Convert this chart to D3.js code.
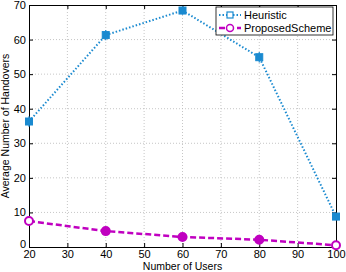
<!DOCTYPE html>
<html>
<head>
<script src="https://d3js.org/d3.v7.min.js"></script>
<style>
body { margin: 0; background: #fff; }
svg { display: block; font-family: "Liberation Sans", Arial, sans-serif; }
</style>
</head>
<body>
<div id="root"></div>
<script>
let users = [20, 40, 60, 80, 100];
let heuristic = [36.3, 61.3, 68.4, 54.9, 8.8];
let heuristic_err = [1.5, 1.5, 1.2, 1.5, 0.7];
let proposed = [7.5, 4.6, 2.9, 2.1, 0.5];
let proposed_err = [0.4, 1.2, 1.2, 1.2, 0.3];
let x_ticks = [20, 30, 40, 50, 60, 70, 80, 90, 100];
let y_ticks = [0, 10, 20, 30, 40, 50, 60, 70];
let series_names = ['Heuristic', 'ProposedScheme'];

let width = 346, height = 272;
let margin = {left: 29, right: 10, top: 5, bottom: 25};
let blue = '#1a8ad0';
let magenta = '#c000c0';

let svg = d3.select('#root').append('svg').attr('width', width).attr('height', height);

let x = d3.scaleLinear().domain([20, 100]).range([margin.left, width - margin.right]);
let y = d3.scaleLinear().domain([0, 70]).range([height - margin.bottom, margin.top]);

// grid
let grid = svg.append('g').attr('stroke', '#b8b8b8').attr('stroke-width', 0.8).attr('stroke-dasharray', '1,2');
grid.selectAll('line.gx').data(x_ticks.slice(1, -1)).join('line')
    .attr('x1', d => x(d)).attr('x2', d => x(d)).attr('y1', y(0)).attr('y2', y(70));
grid.selectAll('line.gy').data(y_ticks.slice(1, -1)).join('line')
    .attr('y1', d => y(d)).attr('y2', d => y(d)).attr('x1', x(20)).attr('x2', x(100));

// axes
let ax = svg.append('g').attr('transform', `translate(0,${y(0)})`)
    .call(d3.axisBottom(x).tickValues(x_ticks).tickSize(-4).tickPadding(3).tickFormat(d3.format('d')));
let ax_top = svg.append('g').attr('transform', `translate(0,${y(70)})`)
    .call(d3.axisTop(x).tickValues(x_ticks).tickSize(-4).tickFormat(''));
let ay = svg.append('g').attr('transform', `translate(${x(20)},0)`)
    .call(d3.axisLeft(y).tickValues(y_ticks).tickSize(-4).tickPadding(3));
let ay_r = svg.append('g').attr('transform', `translate(${x(100)},0)`)
    .call(d3.axisRight(y).tickValues(y_ticks).tickSize(-4).tickFormat(''));
[ax, ax_top, ay, ay_r].forEach(g => {
    g.select('.domain').attr('stroke', '#000').attr('stroke-width', 1);
    g.selectAll('.tick line').attr('stroke', '#000');
    g.selectAll('text').attr('font-size', 11).attr('fill', '#000').style('font-family', '"Liberation Sans", Arial, sans-serif');
});
// nudge the y "0" label up so it clears the x "20" label
ay.selectAll('.tick text').filter(d => d === 0).attr('y', -3);

let line = d3.line().x((d, i) => x(users[i])).y(d => y(d));

// heuristic
svg.append('path').datum(heuristic).attr('d', line)
    .attr('fill', 'none').attr('stroke', blue).attr('stroke-width', 2).attr('stroke-dasharray', '1.5,2');
let hg = svg.append('g');
hg.selectAll('line').data(heuristic).join('line')
    .attr('x1', (d, i) => x(users[i])).attr('x2', (d, i) => x(users[i]))
    .attr('y1', (d, i) => y(d - heuristic_err[i])).attr('y2', (d, i) => y(d + heuristic_err[i]))
    .attr('stroke', blue).attr('stroke-width', 1.2);
hg.selectAll('rect').data(heuristic).join('rect')
    .attr('x', (d, i) => x(users[i]) - 3.5).attr('y', d => y(d) - 3.5)
    .attr('width', 7).attr('height', 7)
    .attr('fill', blue).attr('stroke', blue).attr('stroke-width', 1);

// proposed
svg.append('path').datum(proposed).attr('d', line)
    .attr('fill', 'none').attr('stroke', magenta).attr('stroke-width', 2.5).attr('stroke-dasharray', '6,3');
let pg = svg.append('g');
pg.selectAll('line').data(proposed).join('line')
    .attr('x1', (d, i) => x(users[i])).attr('x2', (d, i) => x(users[i]))
    .attr('y1', (d, i) => y(d - proposed_err[i])).attr('y2', (d, i) => y(d + proposed_err[i]))
    .attr('stroke', magenta).attr('stroke-width', 1);
pg.selectAll('circle').data(proposed).join('circle')
    .attr('cx', (d, i) => x(users[i])).attr('cy', d => y(d)).attr('r', 4)
    .attr('fill', (d, i) => proposed_err[i] > 1 ? magenta : '#fff')
    .attr('stroke', magenta).attr('stroke-width', 2);

// labels
svg.append('text').attr('x', (x(20) + x(100)) / 2).attr('y', 270)
    .attr('text-anchor', 'middle').attr('font-size', 10.5).text('Number of Users');
svg.append('text').attr('transform', `translate(9,${(y(0) + y(70)) / 2}) rotate(-90)`)
    .attr('text-anchor', 'middle').attr('font-size', 10.5).text('Average Number of Handovers');

// legend
let lg = svg.append('g').attr('transform', 'translate(216,7)');
lg.append('rect').attr('width', 117).attr('height', 28).attr('fill', '#fff').attr('stroke', '#000').attr('stroke-width', 0.8);
let items = lg.selectAll('g.item').data(series_names).join('g')
    .attr('transform', (d, i) => `translate(0,${8 + i * 13})`);
items.append('line').attr('x1', 3).attr('x2', 25).attr('y1', 0).attr('y2', 0)
    .attr('stroke', (d, i) => i === 0 ? blue : magenta)
    .attr('stroke-width', (d, i) => i === 0 ? 2 : 2.5)
    .attr('stroke-dasharray', (d, i) => i === 0 ? '1.5,2' : '6,3');
items.append('circle').filter((d, i) => i === 1).attr('cx', 14).attr('cy', 0).attr('r', 3.5)
    .attr('fill', '#fff').attr('stroke', magenta).attr('stroke-width', 1.5);
items.filter((d, i) => i === 0).append('rect').attr('x', 11).attr('y', -3).attr('width', 6).attr('height', 6)
    .attr('fill', '#fff').attr('stroke', blue).attr('stroke-width', 1.2);
items.append('text').attr('x', 28).attr('y', 4).attr('font-size', 11).text(d => d);
</script>
</body>
</html>
